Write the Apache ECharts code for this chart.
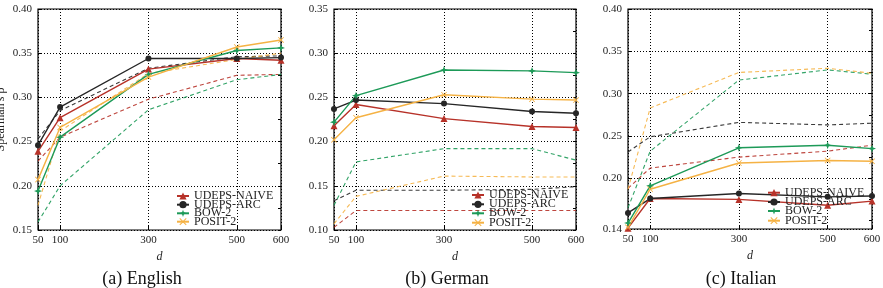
<!DOCTYPE html>
<html>
<head>
<meta charset="utf-8">
<script src="https://cdn.jsdelivr.net/npm/echarts@6/dist/echarts.min.js"></script>
<style>
  html, body { margin: 0; padding: 0; background: #fff; }
  #chart { width: 883px; height: 288px; }
</style>
</head>
<body>
<div id="chart"></div>
<script>
// embedding dimension d
const dims = [50, 100, 300, 500, 600]
const dimTicks = [50, 100, 300, 500, 600]

// (a) English
const enNaive = [0.239, 0.277, 0.332, 0.344, 0.342]
const enArc = [0.246, 0.289, 0.344, 0.344, 0.345]
const enBow = [0.194, 0.255, 0.326, 0.353, 0.356]
const enPosit = [0.207, 0.266, 0.323, 0.357, 0.365]
const enNaiveDash = [0.228, 0.255, 0.298, 0.325, 0.326]
const enArcDash = [0.253, 0.285, 0.333, 0.346, 0.347]
const enBowDash = [0.159, 0.200, 0.286, 0.320, 0.326]
const enPositDash = [0.178, 0.262, 0.327, 0.343, 0.350]

// (b) German
const deNaive = [0.218, 0.242, 0.226, 0.217, 0.216]
const deArc = [0.237, 0.247, 0.243, 0.234, 0.232]
const deBow = [0.222, 0.252, 0.281, 0.280, 0.278]
const dePosit = [0.202, 0.227, 0.253, 0.248, 0.247]
const deNaiveDash = [0.103, 0.122, 0.122, 0.122, 0.122]
const deArcDash = [0.133, 0.145, 0.145, 0.146, 0.149]
const deBowDash = [0.128, 0.177, 0.192, 0.192, 0.179]
const dePositDash = [0.107, 0.138, 0.161, 0.160, 0.160]

// (c) Italian
const itNaive = [0.141, 0.176, 0.175, 0.168, 0.173]
const itArc = [0.159, 0.176, 0.182, 0.178, 0.179]
const itBow = [0.147, 0.191, 0.236, 0.239, 0.235]
const itPosit = [0.142, 0.187, 0.218, 0.221, 0.220]
const itNaiveDash = [0.188, 0.212, 0.225, 0.232, 0.239]
const itArcDash = [0.231, 0.249, 0.266, 0.263, 0.265]
const itBowDash = [0.165, 0.232, 0.316, 0.328, 0.323]
const itPositDash = [0.187, 0.283, 0.325, 0.330, 0.324]

// y tick labels per panel
const enTicks = [0.15, 0.20, 0.25, 0.30, 0.35, 0.40]
const deTicks = [0.10, 0.15, 0.20, 0.25, 0.30, 0.35]
const itTicks = [0.14, 0.20, 0.25, 0.30, 0.35, 0.40]

const legendNames = ['UDEPS-NAIVE', 'UDEPS-ARC', 'BOW-2', 'POSIT-2']
const captions = ['(a) English', '(b) German', '(c) Italian']

const FONT = 'Liberation Serif'
const COLORS = {
  naive: '#b73229',
  arc: '#262626',
  bow: '#1d9a58',
  posit: '#f5b244'
}
const SYMBOLS = {
  naive: 'triangle',
  arc: 'circle',
  bow: 'path://M0,-5 L1.3,-1.3 L5,0 L1.3,1.3 L0,5 L-1.3,1.3 L-5,0 L-1.3,-1.3 Z',
  posit: 'path://M-5,-4 L-4,-5 L0,-1 L4,-5 L5,-4 L1,0 L5,4 L4,5 L0,1 L-4,5 L-5,4 L-1,0 Z'
}
const SYMBOL_SIZE = { naive: 7, arc: 6, bow: 8, posit: 6 }

const grids = [
  { left: 38, top: 9, width: 243, height: 221 },
  { left: 334, top: 9, width: 242, height: 221 },
  { left: 628, top: 9, width: 244, height: 220 }
]
const yRanges = [[0.15, 0.40], [0.10, 0.35], [0.14, 0.40]]
const yTickSets = [enTicks, deTicks, itTicks]
const captionX = [142, 447, 741]
// legend: left edge of icon, centre of each row
const legendLeft = [176, 471, 767]
const legendRows = [
  [196, 204.7, 213.3, 221.7],
  [195, 204.3, 213.3, 222.7],
  [192.7, 202, 211, 220.7]
]

const panels = [
  { naive: enNaive, arc: enArc, bow: enBow, posit: enPosit,
    naiveDash: enNaiveDash, arcDash: enArcDash, bowDash: enBowDash, positDash: enPositDash },
  { naive: deNaive, arc: deArc, bow: deBow, posit: dePosit,
    naiveDash: deNaiveDash, arcDash: deArcDash, bowDash: deBowDash, positDash: dePositDash },
  { naive: itNaive, arc: itArc, bow: itBow, posit: itPosit,
    naiveDash: itNaiveDash, arcDash: itArcDash, bowDash: itBowDash, positDash: itPositDash }
]

function pairs(values) {
  return dims.map((d, i) => [d, values[i]])
}

function minorTicks(range) {
  const out = []
  for (let k = Math.ceil(range[0] / 0.025 - 1e-6); k * 0.025 <= range[1] + 1e-9; k++) {
    out.push(+(k * 0.025).toFixed(3))
  }
  return out
}

const chart = echarts.init(document.getElementById('chart'), null, { renderer: 'canvas' })

const xAxes = [], yAxes = [], series = [], legends = [], titles = []
const keys = ['naive', 'arc', 'bow', 'posit']

grids.forEach((g, p) => {
  xAxes.push({
    type: 'value',
    gridIndex: p,
    min: 50,
    max: 600,
    name: 'd',
    nameLocation: 'middle',
    nameGap: 19,
    nameTextStyle: { fontFamily: FONT, fontStyle: 'italic', fontSize: 12, color: '#222' },
    axisLine: { show: false },
    axisTick: { show: true, inside: true, length: 4, customValues: dimTicks, lineStyle: { color: '#000' } },
    axisLabel: { customValues: dimTicks, margin: 5, fontFamily: FONT, fontSize: 11, color: '#222' },
    splitLine: { show: true, lineStyle: { color: '#000', type: [1, 2], width: 1 } }
  })
  yAxes.push({
    type: 'value',
    gridIndex: p,
    min: yRanges[p][0],
    max: yRanges[p][1],
    name: p === 0 ? "Spearman's ρ" : '',
    nameLocation: 'middle',
    nameRotate: 90,
    nameGap: 31,
    nameTextStyle: { fontFamily: FONT, fontSize: 12, color: '#222' },
    axisLine: { show: false },
    axisTick: { show: true, inside: true, length: 4, customValues: yTickSets[p], lineStyle: { color: '#000' } },
    axisLabel: {
      customValues: yTickSets[p],
      margin: 6,
      fontFamily: FONT,
      fontSize: 11,
      color: '#222',
      formatter: v => v.toFixed(2)
    },
    splitLine: { show: true, lineStyle: { color: '#000', type: [1, 2], width: 1 } }
  })
})

// right-hand axes, only for the inward minor ticks
grids.forEach((g, p) => {
  yAxes.push({
    type: 'value',
    gridIndex: p,
    position: 'right',
    min: yRanges[p][0],
    max: yRanges[p][1],
    axisLine: { show: false },
    axisTick: { show: true, inside: true, length: 3, customValues: minorTicks(yRanges[p]), lineStyle: { color: '#000' } },
    axisLabel: { show: false },
    splitLine: { show: false }
  })
})

panels.forEach((panel, p) => {
  // dashed baselines first, below the solid lines
  keys.forEach(k => {
    series.push({
      name: legendNames[keys.indexOf(k)] + ' base',
      type: 'line',
      xAxisIndex: p,
      yAxisIndex: p,
      data: pairs(panel[k + 'Dash']),
      showSymbol: false,
      symbol: 'none',
      silent: true,
      lineStyle: { color: COLORS[k], width: 1.1, type: [4, 3], opacity: 0.9 },
      z: 2
    })
  })
  keys.forEach((k, i) => {
    series.push({
      name: legendNames[i],
      type: 'line',
      xAxisIndex: p,
      yAxisIndex: p,
      data: pairs(panel[k]),
      symbol: SYMBOLS[k],
      symbolSize: SYMBOL_SIZE[k],
      itemStyle: { color: COLORS[k] },
      lineStyle: { color: COLORS[k], width: 1.4 },
      z: 3
    })

    // one legend per row so the rows can sit tight as in the original
    legends.push({
      show: true,
      orient: 'vertical',
      left: legendLeft[p],
      top: legendRows[p][i] - 6,
      padding: 0,
      itemGap: 0,
      itemWidth: 12,
      itemHeight: 9,
      data: [legendNames[i]],
      selectedMode: false,
      textStyle: { fontFamily: FONT, fontSize: 12, color: '#222' }
    })
  })

  titles.push({
    text: captions[p],
    left: captionX[p],
    top: 270,
    textAlign: 'center',
    padding: 0,
    textStyle: { fontFamily: FONT, fontSize: 18, fontWeight: 'normal', color: '#111' }
  })
})

chart.setOption({
  animation: false,
  backgroundColor: '#fff',
  title: titles,
  legend: legends,
  grid: grids.map(g => Object.assign({
    show: true, borderColor: '#000', borderWidth: 1.2, containLabel: false, outerBoundsMode: 'none'
  }, g)),
  xAxis: xAxes,
  yAxis: yAxes,
  series: series
})
</script>
</body>
</html>
